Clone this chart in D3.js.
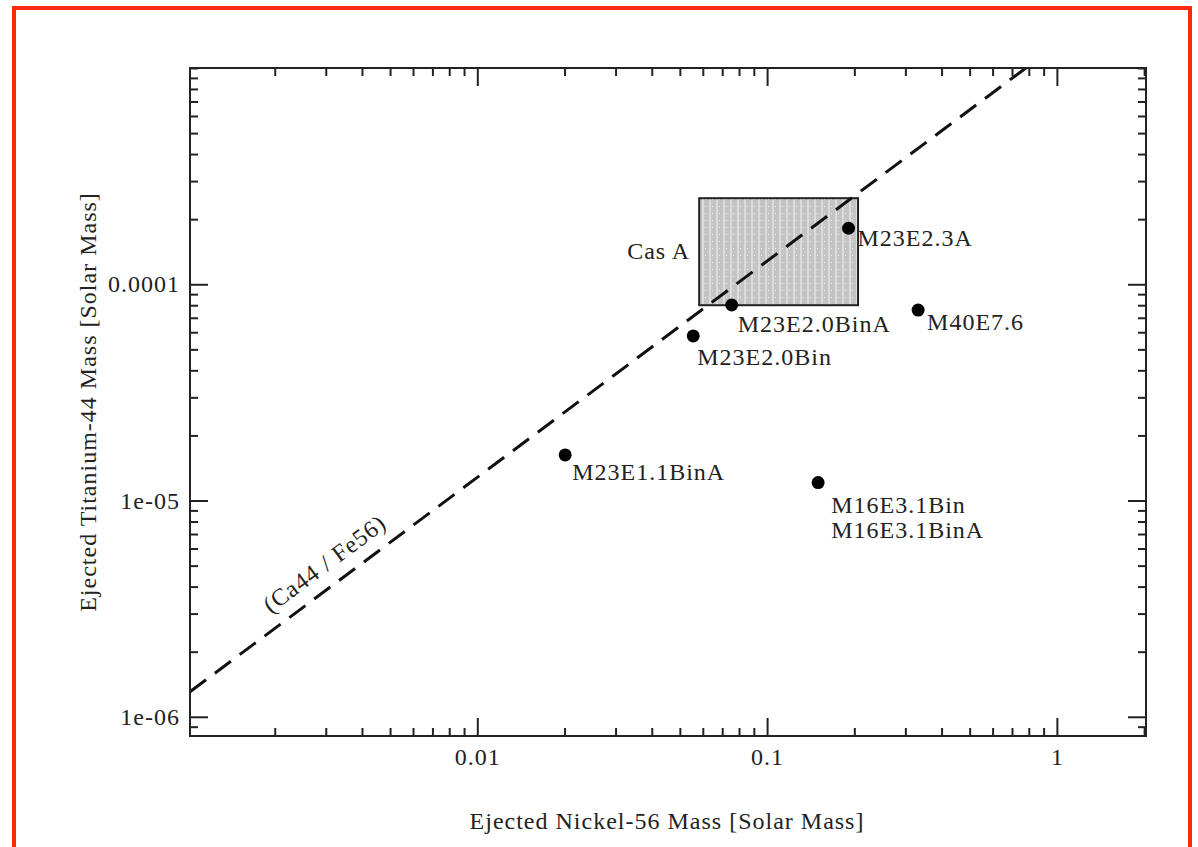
<!DOCTYPE html>
<html>
<head>
<meta charset="utf-8">
<script src="https://cdn.jsdelivr.net/npm/d3@7"></script>
<style>
  html, body { margin: 0; padding: 0; background: #fff; }
  svg { display: block; }
  text { font-family: "Liberation Serif", "Times New Roman", serif; fill: #222; letter-spacing: 1px; }
</style>
</head>
<body>
<svg id="chart" width="1198" height="847"></svg>
<script>
// Supernova models: ejected 56Ni vs 44Ti mass (solar masses)
const models   = ["M23E2.3A", "M23E2.0BinA", "M23E2.0Bin", "M40E7.6", "M23E1.1BinA", "M16E3.1Bin"];
const nickel56 = [0.191, 0.0755, 0.0556, 0.332, 0.0201, 0.150];
const titan44  = [1.815e-4, 8.02e-5, 5.77e-5, 7.6e-5, 1.625e-5, 1.21e-5];
// second label line shared by a point
const extraNames = { "M16E3.1Bin": "M16E3.1BinA" };

// Cas A observed region
const casANickel = [0.0583, 0.206];
const casATitan  = [8.0e-5, 2.5e-4];

// 44Ca / 56Fe reference ratio line
const caFeRatio = 1.28e-3;

// Axis ticks
const xMajorTicks  = [0.01, 0.1, 1];
const xTickLabels  = ["0.01", "0.1", "1"];
const yMajorTicks  = [1e-6, 1e-5, 1e-4];
const yTickLabels  = ["1e-06", "1e-05", "0.0001"];
const xDomain = [0.00102, 2.03];
const yDomain = [8.15e-7, 1e-3];

// Label placement for each point (pixels from the dot)
const labelOffsets = {
  "M23E2.3A":    [9, 18],
  "M23E2.0BinA": [6, 27],
  "M23E2.0Bin":  [4, 29],
  "M40E7.6":     [9, 20],
  "M23E1.1BinA": [7, 25],
  "M16E3.1Bin":  [13, 30]
};

const svg = d3.select("#chart");
const plot = { left: 190, right: 1146, top: 68, bottom: 736 };

const x = d3.scaleLog().domain(xDomain).range([plot.left, plot.right]);
const y = d3.scaleLog().domain(yDomain).range([plot.bottom, plot.top]);

function minorTicks(domain, majors) {
  const out = [];
  const lo = Math.floor(Math.log10(domain[0])), hi = Math.ceil(Math.log10(domain[1]));
  for (let e = lo; e <= hi; e++) {
    for (let m = 1; m <= 9; m++) {
      const v = m * Math.pow(10, e);
      if (v >= domain[0] && v <= domain[1] * 1.0001 && !majors.some(t => Math.abs(t - v) / v < 1e-9)) out.push(v);
    }
  }
  return out;
}
const xMinor = minorTicks(xDomain, xMajorTicks);
const yMinor = minorTicks(yDomain, yMajorTicks);

// outer red border
svg.append("rect")
  .attr("x", 14).attr("y", 8).attr("width", 1176).attr("height", 900)
  .attr("fill", "none").attr("stroke", "#ff2a0c").attr("stroke-width", 4);

// hatch pattern for the Cas A box
const defs = svg.append("defs");
const pat = defs.append("pattern").attr("id", "casHatch")
  .attr("patternUnits", "userSpaceOnUse").attr("width", 7).attr("height", 7);
pat.append("rect").attr("width", 7).attr("height", 7).attr("fill", "#c4c4c4");
pat.append("rect").attr("x", 2).attr("width", 2).attr("height", 7).attr("fill", "#dcdcdc");
pat.append("rect").attr("x", 5).attr("y", 3).attr("width", 1).attr("height", 1).attr("fill", "#f2f2f2");

defs.append("clipPath").attr("id", "plotClip").append("rect")
  .attr("x", plot.left).attr("y", plot.top)
  .attr("width", plot.right - plot.left).attr("height", plot.bottom - plot.top);

// axes: minor and major ticks on all four sides, pointing inward
function styleAxis(g) {
  g.select(".domain").remove();
  g.selectAll(".tick line").attr("stroke", "#222").attr("stroke-width", 2);
  g.selectAll(".tick text").attr("font-size", 24).attr("fill", "#222")
    .style("font-family", "'Liberation Serif', serif");
}
const xFmt = v => xTickLabels[xMajorTicks.indexOf(v)];
const yFmt = v => yTickLabels[yMajorTicks.indexOf(v)];

svg.append("g").attr("transform", `translate(0,${plot.bottom})`)
  .call(d3.axisBottom(x).tickValues(xMinor).tickSize(-8).tickFormat("")).call(styleAxis);
svg.append("g").attr("transform", `translate(0,${plot.bottom})`)
  .call(d3.axisBottom(x).tickValues(xMajorTicks).tickSize(-18).tickPadding(12).tickFormat(xFmt)).call(styleAxis);
svg.append("g").attr("transform", `translate(0,${plot.top})`)
  .call(d3.axisTop(x).tickValues(xMinor).tickSize(-8).tickFormat("")).call(styleAxis);
svg.append("g").attr("transform", `translate(0,${plot.top})`)
  .call(d3.axisTop(x).tickValues(xMajorTicks).tickSize(-18).tickFormat("")).call(styleAxis);

svg.append("g").attr("transform", `translate(${plot.left},0)`)
  .call(d3.axisLeft(y).tickValues(yMinor).tickSize(-8).tickFormat("")).call(styleAxis);
svg.append("g").attr("transform", `translate(${plot.left},0)`)
  .call(d3.axisLeft(y).tickValues(yMajorTicks).tickSize(-18).tickPadding(10).tickFormat(yFmt)).call(styleAxis);
svg.append("g").attr("transform", `translate(${plot.right},0)`)
  .call(d3.axisRight(y).tickValues(yMinor).tickSize(-8).tickFormat("")).call(styleAxis);
svg.append("g").attr("transform", `translate(${plot.right},0)`)
  .call(d3.axisRight(y).tickValues(yMajorTicks).tickSize(-18).tickFormat("")).call(styleAxis);

// Cas A box
svg.append("rect")
  .attr("x", x(casANickel[0])).attr("y", y(casATitan[1]))
  .attr("width", x(casANickel[1]) - x(casANickel[0]))
  .attr("height", y(casATitan[0]) - y(casATitan[1]))
  .attr("fill", "url(#casHatch)").attr("stroke", "#222").attr("stroke-width", 2);
svg.append("text")
  .attr("x", x(casANickel[0]) - 9)
  .attr("y", (y(casATitan[0]) + y(casATitan[1])) / 2)
  .attr("dy", "0.3em").attr("text-anchor", "end").attr("font-size", 24)
  .text("Cas A");

// constant 44Ca/56Fe ratio line
const lineX = [xDomain[0], yDomain[1] / caFeRatio * 1.05];
svg.append("path")
  .datum(lineX.map(v => [v, v * caFeRatio]))
  .attr("clip-path", "url(#plotClip)")
  .attr("d", d3.line().x(d => x(d[0])).y(d => y(d[1])))
  .attr("fill", "none").attr("stroke", "#111").attr("stroke-width", 3)
  .attr("stroke-dasharray", "20,11");

const angle = Math.atan2(y(0.01 * caFeRatio) - y(0.001 * caFeRatio), x(0.01) - x(0.001)) * 180 / Math.PI;
const ratioAt = 0.0033;
svg.append("text")
  .attr("transform", `translate(${x(ratioAt)},${y(ratioAt * caFeRatio)}) rotate(${angle})`)
  .attr("y", -14).attr("text-anchor", "middle").attr("font-size", 24)
  .text("(Ca44 / Fe56)");

// model points and their labels
const pts = models.map((m, i) => ({ name: m, ni: nickel56[i], ti: titan44[i] }));
svg.append("g").selectAll("circle").data(pts).join("circle")
  .attr("cx", d => x(d.ni)).attr("cy", d => y(d.ti)).attr("r", 6.5).attr("fill", "#000");

const lbl = svg.append("g").selectAll("text").data(pts).join("text")
  .attr("x", d => x(d.ni) + labelOffsets[d.name][0])
  .attr("y", d => y(d.ti) + labelOffsets[d.name][1])
  .attr("font-size", 24);
lbl.append("tspan").text(d => d.name);
lbl.filter(d => extraNames[d.name]).append("tspan")
  .attr("x", d => x(d.ni) + labelOffsets[d.name][0]).attr("dy", 25)
  .text(d => extraNames[d.name]);

// frame
svg.append("rect")
  .attr("x", plot.left).attr("y", plot.top)
  .attr("width", plot.right - plot.left).attr("height", plot.bottom - plot.top)
  .attr("fill", "none").attr("stroke", "#222").attr("stroke-width", 2);

// axis titles
svg.append("text")
  .attr("x", (plot.left + plot.right) / 2 - 1).attr("y", 829)
  .attr("text-anchor", "middle").attr("font-size", 24)
  .text("Ejected Nickel-56 Mass [Solar Mass]");
svg.append("text")
  .attr("transform", `translate(96,402) rotate(-90)`)
  .attr("text-anchor", "middle").attr("font-size", 24)
  .text("Ejected Titanium-44 Mass [Solar Mass]");
</script>
</body>
</html>
